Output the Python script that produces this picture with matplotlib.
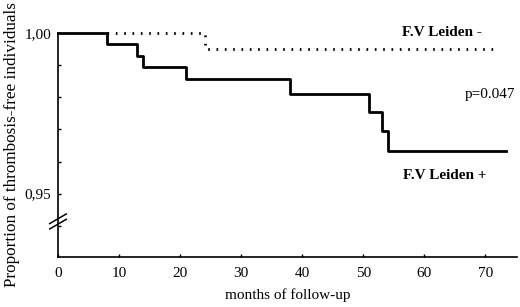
import numpy as np
import matplotlib.pyplot as plt

plt.rcParams['font.family'] = ['Liberation Serif', 'DejaVu Serif']

# Kaplan-Meier steps
t_pos = [0, 8, 13, 14, 21, 38, 51, 53, 54, 73.3]
s_pos = [1.0, 0.9966, 0.9928, 0.9895, 0.9858, 0.981, 0.9755, 0.9695, 0.9633, 0.9633]
t_neg = [8, 24, 72]
s_neg = [1.0, 0.9949, 0.9949]

xticks = [0, 10, 20, 30, 40, 50, 60, 70]
yticks = [0.94, 0.95, 0.96, 0.97, 0.98, 0.99, 1.00]
ylabels = ['', '0,95', '', '', '', '', '1,00']

fig = plt.figure(figsize=(5.2, 3.07), dpi=100)
ax = fig.add_axes([0.1115, 0.163, 0.883, 0.7296])

ax.step(t_pos, s_pos, where='post', color='black', lw=2, clip_on=False)
ax.step(t_neg, s_neg, where='post', color='black', lw=2,
        linestyle=(0, (0.6, 2.4)), clip_on=False)

ax.set_xlim(0, 75.2)
ax.set_ylim(0.9303, 1.0)
ax.set_xticks(xticks)
ax.set_yticks(yticks)
ax.set_yticklabels(ylabels)
ax.tick_params(direction='in', length=2.5, width=1, labelsize=11, pad=5)
ax.tick_params(axis='x', pad=7)
for s in ['top', 'right']:
    ax.spines[s].set_visible(False)
for s in ['left', 'bottom']:
    ax.spines[s].set_linewidth(1.2)

# axis break marks
for dy in (0.0, 0.024):
    ax.plot([-0.018, 0.018], [0.125 + dy, 0.168 + dy], transform=ax.transAxes,
            color='black', lw=1.1, clip_on=False)

ax.text(0.749, 1.0, 'F.V Leiden -', transform=ax.get_yaxis_transform(),
        fontsize=11, fontweight='bold', ha='left', va='center')
ax.text(0.887, 0.9807, 'p=0.047', transform=ax.get_yaxis_transform(),
        fontsize=11, ha='left', va='center')
ax.text(0.752, 0.9558, 'F.V Leiden +', transform=ax.get_yaxis_transform(),
        fontsize=11, fontweight='bold', ha='left', va='center')
ax.set_xlabel('months of follow-up', fontsize=11, labelpad=6)
ax.set_ylabel('Proportion of thrombosis-free individuals', fontsize=12.3, labelpad=3)

fig.savefig('out.png', dpi=100)
